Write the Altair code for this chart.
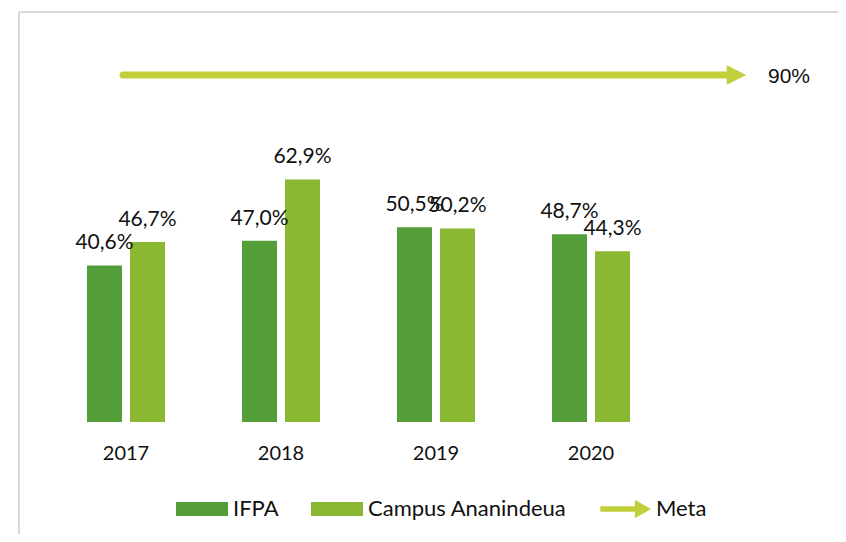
import altair as alt
import pandas as pd

years = ["2017", "2018", "2019", "2020"]
series_names = ["IFPA", "Campus Ananindeua"]
ifpa = [40.6, 47.0, 50.5, 48.7]
campus = [46.7, 62.9, 50.2, 44.3]
meta_name = "Meta"
meta_value = 90

colors = ["#549E39", "#8AB833", "#C0CF3A"]

rows = []
for i, y in enumerate(years):
    rows.append({"year": y, "series": series_names[0], "value": ifpa[i]})
    rows.append({"year": y, "series": series_names[1], "value": campus[i]})
df = pd.DataFrame(rows)
df["label"] = df["value"].map(lambda v: f"{v:.1f}".replace(".", ",") + "%")

meta_df = pd.DataFrame({"series": [meta_name], "value": [meta_value],
                        "label": [f"{meta_value}%"]})
legend_df = pd.DataFrame({"series": series_names + [meta_name]})
border_df = pd.DataFrame({"k": [0]})

domain = series_names + [meta_name]
rect_path = "M-1,-0.27 H1 V0.27 H-1 Z"
arrow_path = "M-0.95,-0.11 L0.38,-0.11 L0.38,-0.36 L1,0 L0.38,0.36 L0.38,0.11 L-0.95,0.11 Z"

legend = alt.Legend(
    title=None, orient="none", legendX=168, legendY=475, direction="horizontal",
    symbolSize=2704, labelFont="Lato", labelFontSize=22, labelColor="#111111",
    labelLimit=400, labelOffset=5, columnPadding=32, symbolOpacity=1,
    symbolStrokeWidth=0, padding=0,
)
color = alt.Color("series:N", scale=alt.Scale(domain=domain, range=colors), legend=legend)

xenc = alt.X("year:N", scale=alt.Scale(range=[40.5, 660.5], paddingInner=0, paddingOuter=0),
             axis=alt.Axis(title=None, domain=False, ticks=False, grid=False, labelAngle=0,
                           labelFont="Lato", labelFontSize=20, labelColor="#111111",
                           labelPadding=21))
xoff = alt.XOffset("series:N", sort=series_names,
                   scale=alt.Scale(domain=series_names, paddingInner=0.186, paddingOuter=0.895))
yenc = alt.Y("value:Q", scale=alt.Scale(domain=[0, 90], range=[414, 67], nice=False), axis=None)

border_top = alt.Chart(border_df).mark_rule(color="#D9D9D9", strokeWidth=2).encode(
    x=alt.value(11), x2=alt.value(840), y=alt.value(4))
border_left = alt.Chart(border_df).mark_rule(color="#D9D9D9", strokeWidth=2).encode(
    x=alt.value(11), y=alt.value(4), y2=alt.value(540))

bars = alt.Chart(df).mark_bar().encode(x=xenc, xOffset=xoff, y=yenc, color=color)

labels = alt.Chart(df).mark_text(font="Lato", fontSize=21, color="#111111",
                                 baseline="middle", dy=-22).encode(
    x=alt.X("year:N"), xOffset=alt.XOffset("series:N", sort=series_names),
    y="value:Q", text="label:N")

meta_line = alt.Chart(meta_df).mark_rule(color=colors[2], strokeWidth=7, strokeCap="round").encode(
    x=alt.value(115), x2=alt.value(724), y="value:Q")
meta_head = alt.Chart(meta_df).mark_point(shape="M-1,-1 L1,0 L-1,1 Z", filled=True, opacity=1,
                                          color=colors[2], size=380, strokeWidth=0).encode(
    x=alt.value(728.5), y="value:Q")
meta_text = alt.Chart(meta_df).mark_text(font="Liberation Sans", fontSize=21, color="#111111",
                                         align="left", baseline="middle", dy=2).encode(
    x=alt.value(760), y="value:Q", text="label:N")

legend_layer = alt.Chart(legend_df).mark_point(filled=True, opacity=0).encode(
    color=color,
    shape=alt.Shape("series:N", scale=alt.Scale(domain=domain, range=[rect_path, rect_path, arrow_path]),
                    legend=legend),
)

chart = alt.layer(border_top, border_left, bars, labels, meta_line, meta_head, meta_text,
                  legend_layer).properties(
    width=830, height=414,
    autosize=alt.AutoSizeParams(type="none"),
    padding={"left": 0, "top": 0, "right": 0, "bottom": 112},
).configure_view(stroke=None)

chart.save("out.html", embed_options={"renderer": "svg", "actions": False})
